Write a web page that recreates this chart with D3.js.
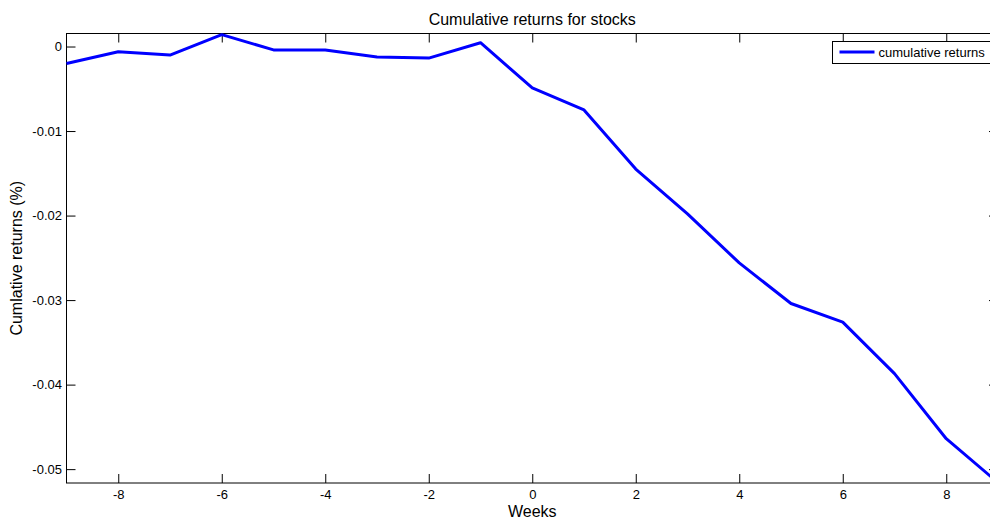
<!DOCTYPE html>
<html>
<head>
<meta charset="utf-8">
<script src="https://cdn.jsdelivr.net/npm/d3@7"></script>
<style>
	body { margin: 0; background: #ffffff; }
	text { font-family: "Liberation Sans", Arial, sans-serif; fill: #000000; }
</style>
</head>
<body>
<svg id="chart" width="990" height="524"></svg>
<script>
	// CHART DATA
	const weeks = [-9, -8, -7, -6, -5, -4, -3, -2, -1, 0, 1, 2, 3, 4, 5, 6, 7, 8, 9];
	const cumulativeReturns = [
		-0.0020, -0.00062, -0.00101, 0.0014, -0.0004, -0.0004, -0.00125, -0.00137, 0.00045,
		-0.0049, -0.0075, -0.0145, -0.0198, -0.0256, -0.0304, -0.0326, -0.0387, -0.0464, -0.0516
	];
	const xTicks = [-8, -6, -4, -2, 0, 2, 4, 6, 8];
	const yTicks = [0, -0.01, -0.02, -0.03, -0.04, -0.05];
	const xDomain = [-9, 9];
	const yDomain = [-0.05164, 0.00154];

	const svg = d3.select('#chart');

	// axes box, the right edge runs past the window like in the picture
	const box = { left: 66.5, right: 998, top: 33.5, bottom: 483 };
	const tickLength = 9;

	const x = d3.scaleLinear().domain(xDomain).range([box.left, box.right]);
	const y = d3.scaleLinear().domain(yDomain).range([box.bottom, box.top]);

	// plain hyphen for the minus sign, like matlab prints it
	const hyphen = (s) => s.replace('\u2212', '-');

	// bottom and left axes with labels, ticks pointing inward
	const xAxis = d3.axisBottom(x)
		.tickValues(xTicks)
		.tickSize(-tickLength)
		.tickPadding(7)
		.tickFormat((d) => hyphen(d3.format('d')(d)));

	const yAxis = d3.axisLeft(y)
		.tickValues(yTicks)
		.tickSize(-tickLength)
		.tickPadding(4.5)
		.tickFormat((d) => d === 0 ? '0' : hyphen(d3.format('.2f')(d)));

	const gx = svg.append('g')
		.attr('transform', `translate(0,${box.bottom})`)
		.call(xAxis);

	const gy = svg.append('g')
		.attr('transform', `translate(${box.left},0)`)
		.call(yAxis);

	// top and right mirror ticks without labels
	const gxTop = svg.append('g')
		.attr('transform', `translate(0,${box.top})`)
		.call(d3.axisTop(x).tickValues(xTicks).tickSize(-tickLength).tickFormat(''));

	const gyRight = svg.append('g')
		.attr('transform', `translate(${box.right},0)`)
		.call(d3.axisRight(y).tickValues(yTicks).tickSize(-tickLength).tickFormat(''));

	[gx, gy, gxTop, gyRight].forEach((g) => {
		g.select('.domain').remove();
		g.selectAll('.tick line').attr('stroke', '#000000').attr('stroke-width', 1);
		g.selectAll('.tick text')
			.style('font-family', '"Liberation Sans", Arial, sans-serif')
			.style('font-size', '13px')
			.attr('fill', '#000000');
	});

	svg.append('rect')
		.attr('x', box.left)
		.attr('y', box.top)
		.attr('width', box.right - box.left)
		.attr('height', box.bottom - box.top)
		.attr('fill', 'none')
		.attr('stroke', '#000000')
		.attr('stroke-width', 1);

	// THE SERIES
	const line = d3.line()
		.x((d, i) => x(weeks[i]))
		.y((d) => y(d));

	svg.append('path')
		.datum(cumulativeReturns)
		.attr('d', line)
		.attr('fill', 'none')
		.attr('stroke', '#0000ff')
		.attr('stroke-width', 3)
		.attr('stroke-linejoin', 'round');

	// TITLE AND AXIS LABELS
	svg.append('text')
		.attr('x', (box.left + box.right) / 2)
		.attr('y', 25)
		.attr('text-anchor', 'middle')
		.style('font-size', '16px')
		.text('Cumulative returns for stocks');

	svg.append('text')
		.attr('x', (box.left + box.right) / 2)
		.attr('y', 517)
		.attr('text-anchor', 'middle')
		.style('font-size', '16px')
		.text('Weeks');

	svg.append('text')
		.attr('transform', `translate(22,${(box.top + box.bottom) / 2}) rotate(-90)`)
		.attr('text-anchor', 'middle')
		.style('font-size', '16px')
		.text('Cumlative returns (%)');

	// LEGEND
	const legend = svg.append('g').attr('transform', 'translate(832.5,41.5)');

	legend.append('rect')
		.attr('width', 163)
		.attr('height', 22)
		.attr('fill', '#ffffff')
		.attr('stroke', '#000000')
		.attr('stroke-width', 1);

	legend.append('line')
		.attr('x1', 7).attr('y1', 10.5)
		.attr('x2', 42).attr('y2', 10.5)
		.attr('stroke', '#0000ff')
		.attr('stroke-width', 3);

	legend.append('text')
		.attr('x', 46)
		.attr('y', 15)
		.style('font-size', '13px')
		.text('cumulative returns');
</script>
</body>
</html>
